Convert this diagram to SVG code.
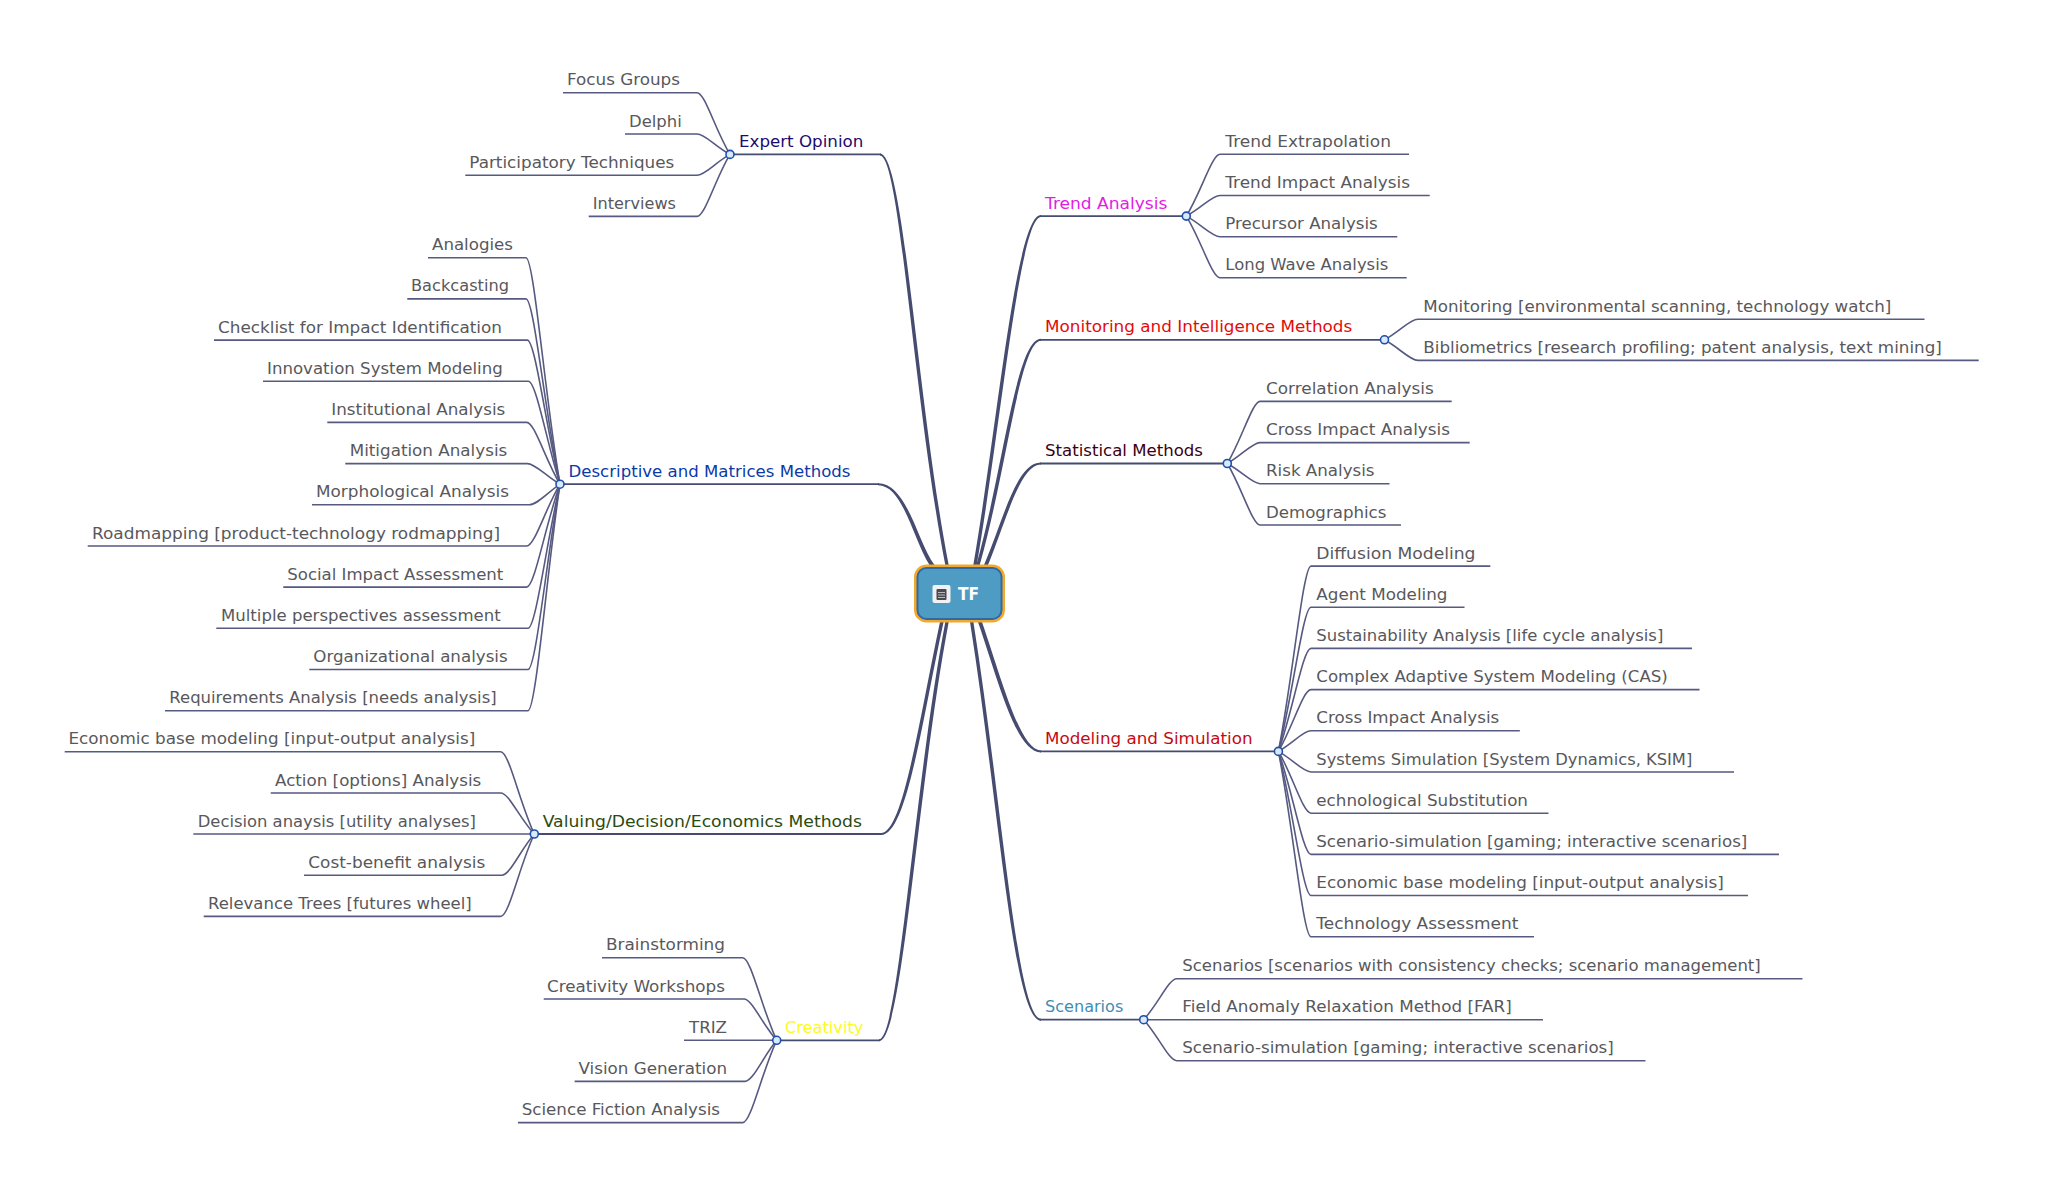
<svg xmlns="http://www.w3.org/2000/svg" width="2048" height="1195" viewBox="0 0 2048 1195">
<style>
text{font-family:"DejaVu Sans","Liberation Sans",sans-serif;font-size:16.5px;fill:#58585c;transform:translateY(-0.5px)}
.m{fill:none;stroke:#454c70;stroke-width:1.8}
.t{fill:#454c70;stroke:none}
.c{fill:none;stroke:#565a80;stroke-width:1.6}
.j{fill:#dbe8f8;stroke:#1d4fae;stroke-width:1.6}
</style>
<rect width="2048" height="1195" fill="#ffffff"/>
<g id="connectors">
<path class="m" d="M730,154.4H881"/>
<path class="t" d="M880,153.4C904,153.4 916.7,400 948.7,565L945.3,565C913.3,400 900,155.4 880,155.4Z"/>
<path class="m" d="M560,484.2H879"/>
<path class="t" d="M878,483.2C907,483.2 917,541 934.5,565L929.5,565C913,539 903,485.2 878,485.2Z"/>
<path class="m" d="M534.3,834H882"/>
<path class="t" d="M881,833C903,833 919,720 940,622L943.6,622C922,720 907,835 881,835Z"/>
<path class="m" d="M776.7,1040.3H880"/>
<path class="t" d="M879,1039.3C899,1039.3 913.3,790 945.3,622L948.7,622C916.7,790 903,1041.3 879,1041.3Z"/>
<path class="m" d="M1186.3,216.1H1040"/>
<path class="t" d="M1041,215.1C1016,215.1 998.3,420 973.3,565L976.7,565C1001.7,420 1020,217.1 1041,217.1Z"/>
<path class="m" d="M1384.5,339.8H1040"/>
<path class="t" d="M1041,338.8C1016,338.8 1003.3,470 976.3,565L979.7,565C1006.7,470 1020,340.8 1041,340.8Z"/>
<path class="m" d="M1227.3,463.5H1040"/>
<path class="t" d="M1041,462.5C1016,462.5 1003.5,520 984,565L988,565C1006.5,520 1020,464.5 1041,464.5Z"/>
<path class="m" d="M1278.4,751.4H1040"/>
<path class="t" d="M1041,750.4C1020,750.4 1002,680 982,622L978,622C998,680 1016,752.4 1041,752.4Z"/>
<path class="m" d="M1143.7,1019.7H1040"/>
<path class="t" d="M1041,1018.7C1017,1018.7 1001.7,800 973.4,622L970,622C998.3,800 1013,1020.7 1041,1020.7Z"/>
<path class="c" d="M563,92.7H697C705,92.7 715,129.7 730,154.4"/>
<path class="c" d="M625,134H697C705,134 715,146.2 730,154.4"/>
<path class="c" d="M465.3,175.2H697C705,175.2 715,162.7 730,154.4"/>
<path class="c" d="M588.7,216.4H697C705,216.4 715,179.2 730,154.4"/>
<path class="c" d="M428,257.7H526C534,257.7 544.5,393.6 560,484.2"/>
<path class="c" d="M407.3,298.9H526C534,298.9 544.5,410.1 560,484.2"/>
<path class="c" d="M214,340.1H527.3C535.3,340.1 545.8,426.6 560,484.2"/>
<path class="c" d="M263,381.2H528.3C536.3,381.2 546.8,443 560,484.2"/>
<path class="c" d="M327.3,422.4H526.7C534.7,422.4 545.2,459.5 560,484.2"/>
<path class="c" d="M345.3,463.6H527.3C535.3,463.6 545.8,475.9 560,484.2"/>
<path class="c" d="M312,504.8H529.3C537.3,504.8 547.8,492.4 560,484.2"/>
<path class="c" d="M87.7,546H526.7C534.7,546 545.2,508.9 560,484.2"/>
<path class="c" d="M283.3,587.1H526.7C534.7,587.1 545.2,525.4 560,484.2"/>
<path class="c" d="M216.3,628.3H528C536,628.3 546.5,541.8 560,484.2"/>
<path class="c" d="M309.3,669.5H528C536,669.5 546.5,558.3 560,484.2"/>
<path class="c" d="M165,710.7H528C536,710.7 546.5,574.8 560,484.2"/>
<path class="c" d="M64.7,751.7H500.7C509,751.7 519,801 534.3,834"/>
<path class="c" d="M270.7,793H500.7C509,793 519,817.6 534.3,834"/>
<path class="c" d="M193.3,834H534.3"/>
<path class="c" d="M304,875.3H501.7C510,875.3 520,850.5 534.3,834"/>
<path class="c" d="M203.7,916.4H500.7C509,916.4 519,867 534.3,834"/>
<path class="c" d="M602,957.7H742.7C751,957.7 761.4,1007.3 776.7,1040.3"/>
<path class="c" d="M543.7,999H744C752,999 762,1023.8 776.7,1040.3"/>
<path class="c" d="M684,1040.3H776.7"/>
<path class="c" d="M574.6,1081.4H745C753,1081.4 763,1056.7 776.7,1040.3"/>
<path class="c" d="M518,1122.6H742.7C751,1122.6 761.4,1073.2 776.7,1040.3"/>
<path class="c" d="M1409,154.3H1220C1212,154.3 1201.5,191.4 1186.3,216.1"/>
<path class="c" d="M1429.7,195.5H1220C1212,195.5 1201.5,207.9 1186.3,216.1"/>
<path class="c" d="M1397.3,236.7H1220C1212,236.7 1201.5,224.3 1186.3,216.1"/>
<path class="c" d="M1406.7,277.8H1220C1212,277.8 1201.5,240.8 1186.3,216.1"/>
<path class="c" d="M1924.5,319.2H1417.8C1410,319.2 1399.5,331.6 1384.5,339.8"/>
<path class="c" d="M1978.7,360.4H1417.8C1410,360.4 1399.5,348 1384.5,339.8"/>
<path class="c" d="M1451.7,401.4H1260C1252.5,401.4 1242,438.7 1227.3,463.5"/>
<path class="c" d="M1469.7,442.6H1260C1252.5,442.6 1242,455.1 1227.3,463.5"/>
<path class="c" d="M1389.5,483.7H1260C1252.5,483.7 1242,471.6 1227.3,463.5"/>
<path class="c" d="M1401,525H1260C1252.5,525 1242,488.1 1227.3,463.5"/>
<path class="c" d="M1490.3,566.1H1311C1303,566.1 1293,677.3 1278.4,751.4"/>
<path class="c" d="M1464.5,607.3H1311C1303,607.3 1293,693.8 1278.4,751.4"/>
<path class="c" d="M1692,648.4H1311C1303,648.4 1293,710.2 1278.4,751.4"/>
<path class="c" d="M1699.5,689.6H1311C1303,689.6 1293,726.7 1278.4,751.4"/>
<path class="c" d="M1519.8,730.8H1311C1303,730.8 1293,743.2 1278.4,751.4"/>
<path class="c" d="M1734,772H1311C1303,772 1293,759.6 1278.4,751.4"/>
<path class="c" d="M1548.5,813.2H1311C1303,813.2 1293,776.1 1278.4,751.4"/>
<path class="c" d="M1779,854.4H1311C1303,854.4 1293,792.6 1278.4,751.4"/>
<path class="c" d="M1748,895.5H1311C1303,895.5 1293,809 1278.4,751.4"/>
<path class="c" d="M1534,936.7H1311C1303,936.7 1293,825.5 1278.4,751.4"/>
<path class="c" d="M1802.5,978.7H1176.7C1169,978.7 1158.5,1003.3 1143.7,1019.7"/>
<path class="c" d="M1543,1019.7H1143.7"/>
<path class="c" d="M1645.5,1060.7H1176.7C1169,1060.7 1158.5,1036.1 1143.7,1019.7"/>
</g>
<g id="root">
<rect x="915.5" y="566" width="88" height="55" rx="11" fill="#4e9cc4" stroke="#f0a92e" stroke-width="3"/>
<rect x="917.5" y="568" width="84" height="51" rx="9" fill="none" stroke="#2f6aa5" stroke-width="2"/>
<rect x="932.5" y="585" width="18" height="18" rx="2" fill="#f0f1f3"/>
<rect x="936.5" y="589" width="10" height="11" rx="1" fill="#4a4a50"/>
<path d="M938,592.5H945M938,595H945M938,597.5H945" stroke="#d8d8dc" stroke-width="0.8" fill="none"/>
<text x="958" y="600.5" textLength="21" lengthAdjust="spacingAndGlyphs" style="font-size:18px;font-weight:bold;fill:#ffffff">TF</text>
</g>
<g id="expert-opinion">
<circle class="j" cx="730" cy="154.4" r="4"/>
<text x="739" y="147.4" textLength="124.3" lengthAdjust="spacingAndGlyphs" style="fill:#1c0b6e">Expert Opinion</text>
</g>
<g id="focus-groups"><text x="567" y="85.7" textLength="113" lengthAdjust="spacingAndGlyphs">Focus Groups</text></g>
<g id="delphi"><text x="629" y="127" textLength="52.7" lengthAdjust="spacingAndGlyphs">Delphi</text></g>
<g id="participatory"><text x="469.3" y="168.2" textLength="205" lengthAdjust="spacingAndGlyphs">Participatory Techniques</text></g>
<g id="interviews"><text x="592.7" y="209.4" textLength="83.3" lengthAdjust="spacingAndGlyphs">Interviews</text></g>
<g id="descriptive">
<circle class="j" cx="560" cy="484.2" r="4"/>
<text x="568.5" y="477.2" textLength="282" lengthAdjust="spacingAndGlyphs" style="fill:#0b3aa8">Descriptive and Matrices Methods</text>
</g>
<g id="analogies"><text x="432" y="250.7" textLength="81" lengthAdjust="spacingAndGlyphs">Analogies</text></g>
<g id="backcasting"><text x="411" y="291.9" textLength="98" lengthAdjust="spacingAndGlyphs">Backcasting</text></g>
<g id="checklist"><text x="218" y="333.1" textLength="284" lengthAdjust="spacingAndGlyphs">Checklist for Impact Identification</text></g>
<g id="innovation"><text x="267" y="374.2" textLength="235.7" lengthAdjust="spacingAndGlyphs">Innovation System Modeling</text></g>
<g id="institutional"><text x="331.3" y="415.4" textLength="174" lengthAdjust="spacingAndGlyphs">Institutional Analysis</text></g>
<g id="mitigation"><text x="349.7" y="456.6" textLength="157.6" lengthAdjust="spacingAndGlyphs">Mitigation Analysis</text></g>
<g id="morphological"><text x="316" y="497.8" textLength="193" lengthAdjust="spacingAndGlyphs">Morphological Analysis</text></g>
<g id="roadmapping"><text x="92" y="539" textLength="408" lengthAdjust="spacingAndGlyphs">Roadmapping [product-technology rodmapping]</text></g>
<g id="social"><text x="287.3" y="580.1" textLength="216" lengthAdjust="spacingAndGlyphs">Social Impact Assessment</text></g>
<g id="multiple"><text x="221" y="621.3" textLength="279.7" lengthAdjust="spacingAndGlyphs">Multiple perspectives assessment</text></g>
<g id="organizational"><text x="313.3" y="662.5" textLength="194.4" lengthAdjust="spacingAndGlyphs">Organizational analysis</text></g>
<g id="requirements"><text x="169.3" y="703.7" textLength="327.4" lengthAdjust="spacingAndGlyphs">Requirements Analysis [needs analysis]</text></g>
<g id="valuing">
<circle class="j" cx="534.3" cy="834" r="4"/>
<text x="542.7" y="827" textLength="319.3" lengthAdjust="spacingAndGlyphs" style="fill:#2a4a10">Valuing/Decision/Economics Methods</text>
</g>
<g id="economic-left"><text x="68.5" y="744.7" textLength="406.8" lengthAdjust="spacingAndGlyphs">Economic base modeling [input-output analysis]</text></g>
<g id="action"><text x="275" y="786" textLength="206.3" lengthAdjust="spacingAndGlyphs">Action [options] Analysis</text></g>
<g id="decision"><text x="197.7" y="827" textLength="278.3" lengthAdjust="spacingAndGlyphs">Decision anaysis [utility analyses]</text></g>
<g id="cost"><text x="308.3" y="868.3" textLength="177" lengthAdjust="spacingAndGlyphs">Cost-benefit analysis</text></g>
<g id="relevance"><text x="208" y="909.4" textLength="263.7" lengthAdjust="spacingAndGlyphs">Relevance Trees [futures wheel]</text></g>
<g id="creativity">
<circle class="j" cx="776.7" cy="1040.3" r="4"/>
<text x="785" y="1033.3" textLength="78.3" lengthAdjust="spacingAndGlyphs" style="fill:#fbfb1e">Creativity</text>
</g>
<g id="brainstorming"><text x="606" y="950.7" textLength="119" lengthAdjust="spacingAndGlyphs">Brainstorming</text></g>
<g id="workshops"><text x="547" y="992" textLength="178" lengthAdjust="spacingAndGlyphs">Creativity Workshops</text></g>
<g id="triz"><text x="689" y="1033.3" textLength="38" lengthAdjust="spacingAndGlyphs">TRIZ</text></g>
<g id="vision"><text x="578.5" y="1074.4" textLength="148.5" lengthAdjust="spacingAndGlyphs">Vision Generation</text></g>
<g id="science"><text x="521.7" y="1115.6" textLength="198.3" lengthAdjust="spacingAndGlyphs">Science Fiction Analysis</text></g>
<g id="trend">
<circle class="j" cx="1186.3" cy="216.1" r="4"/>
<text x="1045" y="209.1" textLength="122.3" lengthAdjust="spacingAndGlyphs" style="fill:#e31be3">Trend Analysis</text>
</g>
<g id="trend-ext"><text x="1225.3" y="147.3" textLength="165.7" lengthAdjust="spacingAndGlyphs">Trend Extrapolation</text></g>
<g id="trend-impact"><text x="1225.3" y="188.5" textLength="184.7" lengthAdjust="spacingAndGlyphs">Trend Impact Analysis</text></g>
<g id="precursor"><text x="1225.3" y="229.7" textLength="152.4" lengthAdjust="spacingAndGlyphs">Precursor Analysis</text></g>
<g id="long-wave"><text x="1225.3" y="270.8" textLength="163" lengthAdjust="spacingAndGlyphs">Long Wave Analysis</text></g>
<g id="monitoring">
<circle class="j" cx="1384.5" cy="339.8" r="4"/>
<text x="1045" y="332.8" textLength="307.3" lengthAdjust="spacingAndGlyphs" style="fill:#e30a0a">Monitoring and Intelligence Methods</text>
</g>
<g id="monitoring-env"><text x="1423.3" y="312.2" textLength="468" lengthAdjust="spacingAndGlyphs">Monitoring [environmental scanning, technology watch]</text></g>
<g id="bibliometrics"><text x="1423.3" y="353.4" textLength="518.5" lengthAdjust="spacingAndGlyphs">Bibliometrics [research profiling; patent analysis, text mining]</text></g>
<g id="statistical">
<circle class="j" cx="1227.3" cy="463.5" r="4"/>
<text x="1045" y="456.5" textLength="158" lengthAdjust="spacingAndGlyphs" style="fill:#3a0012">Statistical Methods</text>
</g>
<g id="correlation"><text x="1266" y="394.4" textLength="167.7" lengthAdjust="spacingAndGlyphs">Correlation Analysis</text></g>
<g id="cross-stat"><text x="1266" y="435.6" textLength="183.9" lengthAdjust="spacingAndGlyphs">Cross Impact Analysis</text></g>
<g id="risk"><text x="1266" y="476.7" textLength="108.5" lengthAdjust="spacingAndGlyphs">Risk Analysis</text></g>
<g id="demographics"><text x="1266" y="518" textLength="120.4" lengthAdjust="spacingAndGlyphs">Demographics</text></g>
<g id="modeling">
<circle class="j" cx="1278.4" cy="751.4" r="4"/>
<text x="1045" y="744.4" textLength="207.5" lengthAdjust="spacingAndGlyphs" style="fill:#c30a14">Modeling and Simulation</text>
</g>
<g id="diffusion"><text x="1316.3" y="559.1" textLength="159.2" lengthAdjust="spacingAndGlyphs">Diffusion Modeling</text></g>
<g id="agent"><text x="1316.3" y="600.3" textLength="131.2" lengthAdjust="spacingAndGlyphs">Agent Modeling</text></g>
<g id="sustainability"><text x="1316.3" y="641.4" textLength="347" lengthAdjust="spacingAndGlyphs">Sustainability Analysis [life cycle analysis]</text></g>
<g id="complex"><text x="1316.3" y="682.6" textLength="351.5" lengthAdjust="spacingAndGlyphs">Complex Adaptive System Modeling (CAS)</text></g>
<g id="cross-model"><text x="1316.3" y="723.8" textLength="183" lengthAdjust="spacingAndGlyphs">Cross Impact Analysis</text></g>
<g id="systems"><text x="1316.3" y="765" textLength="376" lengthAdjust="spacingAndGlyphs">Systems Simulation [System Dynamics, KSIM]</text></g>
<g id="echnological"><text x="1316.3" y="806.2" textLength="211.7" lengthAdjust="spacingAndGlyphs">echnological Substitution</text></g>
<g id="scenario-sim-model"><text x="1316.3" y="847.4" textLength="431" lengthAdjust="spacingAndGlyphs">Scenario-simulation [gaming; interactive scenarios]</text></g>
<g id="economic-right"><text x="1316.3" y="888.5" textLength="407.5" lengthAdjust="spacingAndGlyphs">Economic base modeling [input-output analysis]</text></g>
<g id="technology"><text x="1316.3" y="929.7" textLength="202" lengthAdjust="spacingAndGlyphs">Technology Assessment</text></g>
<g id="scenarios">
<circle class="j" cx="1143.7" cy="1019.7" r="4"/>
<text x="1045" y="1012.7" textLength="78.3" lengthAdjust="spacingAndGlyphs" style="fill:#3f8db3">Scenarios</text>
</g>
<g id="scenarios-checks"><text x="1182.3" y="971.7" textLength="578.5" lengthAdjust="spacingAndGlyphs">Scenarios [scenarios with consistency checks; scenario management]</text></g>
<g id="far"><text x="1182.3" y="1012.7" textLength="329.5" lengthAdjust="spacingAndGlyphs">Field Anomaly Relaxation Method [FAR]</text></g>
<g id="scenario-sim"><text x="1182.3" y="1053.7" textLength="431.5" lengthAdjust="spacingAndGlyphs">Scenario-simulation [gaming; interactive scenarios]</text></g>
</svg>
